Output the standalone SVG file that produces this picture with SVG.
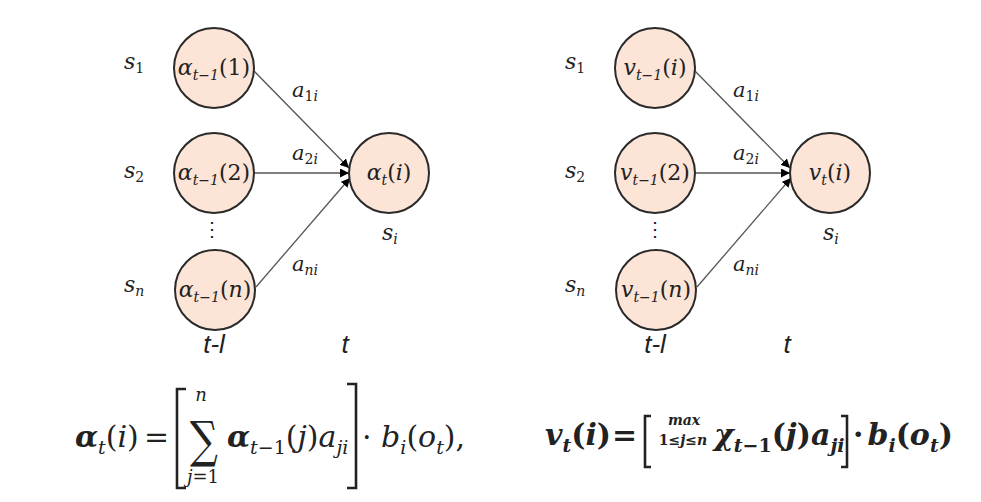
<svg xmlns="http://www.w3.org/2000/svg" width="981" height="502" viewBox="0 0 981 502">
<defs>
<style>
.node{fill:#FCE4D6;stroke:#2a2a2a;stroke-width:2}
.m{font-family:"DejaVu Serif","Liberation Serif",serif;fill:#222}
.i{font-style:italic}
.b{font-weight:bold}
.lbl{font-family:"Liberation Sans",Arial,sans-serif;font-style:italic;font-size:26px;fill:#222}
.edge{stroke:#555;stroke-width:1.3;fill:none}
.br{stroke:#222;stroke-width:2.6;fill:none}
</style>
<marker id="arr" viewBox="0 0 10 10" refX="10" refY="5" markerWidth="9" markerHeight="9" markerUnits="userSpaceOnUse" orient="auto">
<path d="M0,0 L10,5 L0,10 z" fill="#000"/>
</marker>
</defs>
<rect width="981" height="502" fill="#fff"/>

<g id="connectors">
<path class="edge" d="M253,70 L349,168" marker-end="url(#arr)"/>
<path class="edge" d="M254,173 L349,173" marker-end="url(#arr)"/>
<path class="edge" d="M256,287 L350,178" marker-end="url(#arr)"/>
<path class="edge" d="M694,70 L790,168" marker-end="url(#arr)"/>
<path class="edge" d="M695,173 L790,173" marker-end="url(#arr)"/>
<path class="edge" d="M697,287 L791,178" marker-end="url(#arr)"/>
</g>

<g id="edge-labels" class="m" font-size="21">
<text x="292" y="97"><tspan class="i">a</tspan><tspan font-size="14" dy="4">1</tspan><tspan class="i" font-size="14">i</tspan></text>
<text x="292" y="160"><tspan class="i">a</tspan><tspan font-size="14" dy="4">2</tspan><tspan class="i" font-size="14">i</tspan></text>
<text x="292" y="271"><tspan class="i">a</tspan><tspan class="i" font-size="14" dy="4">ni</tspan></text>
<text x="733" y="97"><tspan class="i">a</tspan><tspan font-size="14" dy="4">1</tspan><tspan class="i" font-size="14">i</tspan></text>
<text x="733" y="160"><tspan class="i">a</tspan><tspan font-size="14" dy="4">2</tspan><tspan class="i" font-size="14">i</tspan></text>
<text x="733" y="271"><tspan class="i">a</tspan><tspan class="i" font-size="14" dy="4">ni</tspan></text>
</g>

<g id="state-labels" class="m" font-size="22">
<text x="124" y="69"><tspan class="i">s</tspan><tspan font-size="14" dy="4">1</tspan></text>
<text x="124" y="178"><tspan class="i">s</tspan><tspan font-size="14" dy="4">2</tspan></text>
<text x="124" y="292"><tspan class="i">s</tspan><tspan class="i" font-size="14" dy="4">n</tspan></text>
<text x="382" y="240"><tspan class="i">s</tspan><tspan class="i" font-size="14" dy="4">i</tspan></text>
<text x="212" y="236" font-size="20" text-anchor="middle">⋮</text>
<text x="565" y="69"><tspan class="i">s</tspan><tspan font-size="14" dy="4">1</tspan></text>
<text x="565" y="178"><tspan class="i">s</tspan><tspan font-size="14" dy="4">2</tspan></text>
<text x="565" y="292"><tspan class="i">s</tspan><tspan class="i" font-size="14" dy="4">n</tspan></text>
<text x="823" y="240"><tspan class="i">s</tspan><tspan class="i" font-size="14" dy="4">i</tspan></text>
<text x="655" y="236" font-size="20" text-anchor="middle">⋮</text>
</g>

<g id="time-labels">
<text class="lbl" x="214" y="353" text-anchor="middle">t-l</text>
<text class="lbl" x="345" y="353" text-anchor="middle">t</text>
<text class="lbl" x="655" y="353" text-anchor="middle">t-l</text>
<text class="lbl" x="787" y="353" text-anchor="middle">t</text>
</g>

<g id="alpha1">
<circle class="node" cx="214" cy="68" r="40"/>
<text class="m" x="214" y="75" font-size="22" text-anchor="middle"><tspan class="i">α</tspan><tspan class="i" font-size="14" dy="5">t−1</tspan><tspan dy="-5">(1)</tspan></text>
</g>
<g id="alpha2">
<circle class="node" cx="214" cy="173" r="40"/>
<text class="m" x="214" y="180" font-size="22" text-anchor="middle"><tspan class="i">α</tspan><tspan class="i" font-size="14" dy="5">t−1</tspan><tspan dy="-5">(2)</tspan></text>
</g>
<g id="alphan">
<circle class="node" cx="215" cy="290" r="40"/>
<text class="m" x="215" y="297" font-size="22" text-anchor="middle"><tspan class="i">α</tspan><tspan class="i" font-size="14" dy="5">t−1</tspan><tspan dy="-5">(</tspan><tspan class="i">n</tspan><tspan>)</tspan></text>
</g>
<g id="alphat">
<circle class="node" cx="389" cy="173" r="40"/>
<text class="m" x="389" y="180" font-size="22" text-anchor="middle"><tspan class="i">α</tspan><tspan class="i" font-size="14" dy="5">t</tspan><tspan dy="-5">(</tspan><tspan class="i">i</tspan><tspan>)</tspan></text>
</g>

<g id="v1">
<circle class="node" cx="655" cy="68" r="40"/>
<text class="m" x="655" y="75" font-size="22" text-anchor="middle"><tspan class="i">v</tspan><tspan class="i" font-size="14" dy="5">t−1</tspan><tspan dy="-5">(</tspan><tspan class="i">i</tspan><tspan>)</tspan></text>
</g>
<g id="v2">
<circle class="node" cx="655" cy="173" r="40"/>
<text class="m" x="655" y="180" font-size="22" text-anchor="middle"><tspan class="i">v</tspan><tspan class="i" font-size="14" dy="5">t−1</tspan><tspan dy="-5">(2)</tspan></text>
</g>
<g id="vn">
<circle class="node" cx="656" cy="290" r="40"/>
<text class="m" x="656" y="297" font-size="22" text-anchor="middle"><tspan class="i">v</tspan><tspan class="i" font-size="14" dy="5">t−1</tspan><tspan dy="-5">(</tspan><tspan class="i">n</tspan><tspan>)</tspan></text>
</g>
<g id="vt">
<circle class="node" cx="830" cy="173" r="40"/>
<text class="m" x="830" y="180" font-size="22" text-anchor="middle"><tspan class="i">v</tspan><tspan class="i" font-size="14" dy="5">t</tspan><tspan dy="-5">(</tspan><tspan class="i">i</tspan><tspan>)</tspan></text>
</g>

<g id="forward-formula" class="m">
<text x="75" y="447" font-size="30"><tspan class="i b">α</tspan><tspan class="i" font-size="19" dy="7">t</tspan><tspan dy="-7">(</tspan><tspan class="i">i</tspan><tspan>)</tspan></text>
<text x="144" y="447" font-size="30">=</text>
<polyline class="br" points="186,389 177,389 177,488 186,488"/>
<text x="201" y="401" font-size="18" class="i" text-anchor="middle">n</text>
<text transform="translate(204,457) scale(0.78,1)" font-size="50" text-anchor="middle">∑</text>
<text x="203" y="483" font-size="18" text-anchor="middle"><tspan class="i">j</tspan>=1</text>
<text x="227" y="447" font-size="30"><tspan class="i b">α</tspan><tspan class="i" font-size="19" dy="7">t</tspan><tspan font-size="19">−1</tspan><tspan dy="-7">(</tspan><tspan class="i">j</tspan><tspan>)</tspan><tspan class="i">a</tspan><tspan class="i" font-size="19" dy="7">ji</tspan></text>
<polyline class="br" points="347,384 356,384 356,488 347,488"/>
<text x="362" y="447" font-size="30"><tspan>· </tspan><tspan class="i">b</tspan><tspan class="i" font-size="19" dy="7">i</tspan><tspan dy="-7">(</tspan><tspan class="i">o</tspan><tspan class="i" font-size="19" dy="7">t</tspan><tspan dy="-7">),</tspan></text>
</g>

<g id="viterbi-formula" class="m b">
<text x="545" y="445" font-size="30"><tspan class="i">v</tspan><tspan class="i" font-size="19" dy="7">t</tspan><tspan dy="-7">(</tspan><tspan class="i">i</tspan><tspan>)</tspan></text>
<text x="612" y="445" font-size="30">=</text>
<polyline class="br" points="651,416 645,416 645,467 651,467"/>
<text x="684" y="425" font-size="14" class="i" text-anchor="middle">max</text>
<text x="683" y="445" font-size="14" text-anchor="middle">1≤<tspan class="i">j</tspan>≤<tspan class="i">n</tspan></text>
<text x="714" y="445" font-size="30"><tspan class="i">χ</tspan><tspan class="i" font-size="19" dy="7">t</tspan><tspan font-size="19">−1</tspan><tspan dy="-7">(</tspan><tspan class="i">j</tspan><tspan>)</tspan><tspan class="i">a</tspan><tspan class="i" font-size="19" dy="7">ji</tspan></text>
<polyline class="br" points="841,416 847,416 847,467 841,467"/>
<text x="853" y="445" font-size="30"><tspan>·</tspan><tspan class="i" dx="4">b</tspan><tspan class="i" font-size="19" dy="7">i</tspan><tspan dy="-7">(</tspan><tspan class="i">o</tspan><tspan class="i" font-size="19" dy="7">t</tspan><tspan dy="-7">)</tspan></text>
</g>
</svg>
